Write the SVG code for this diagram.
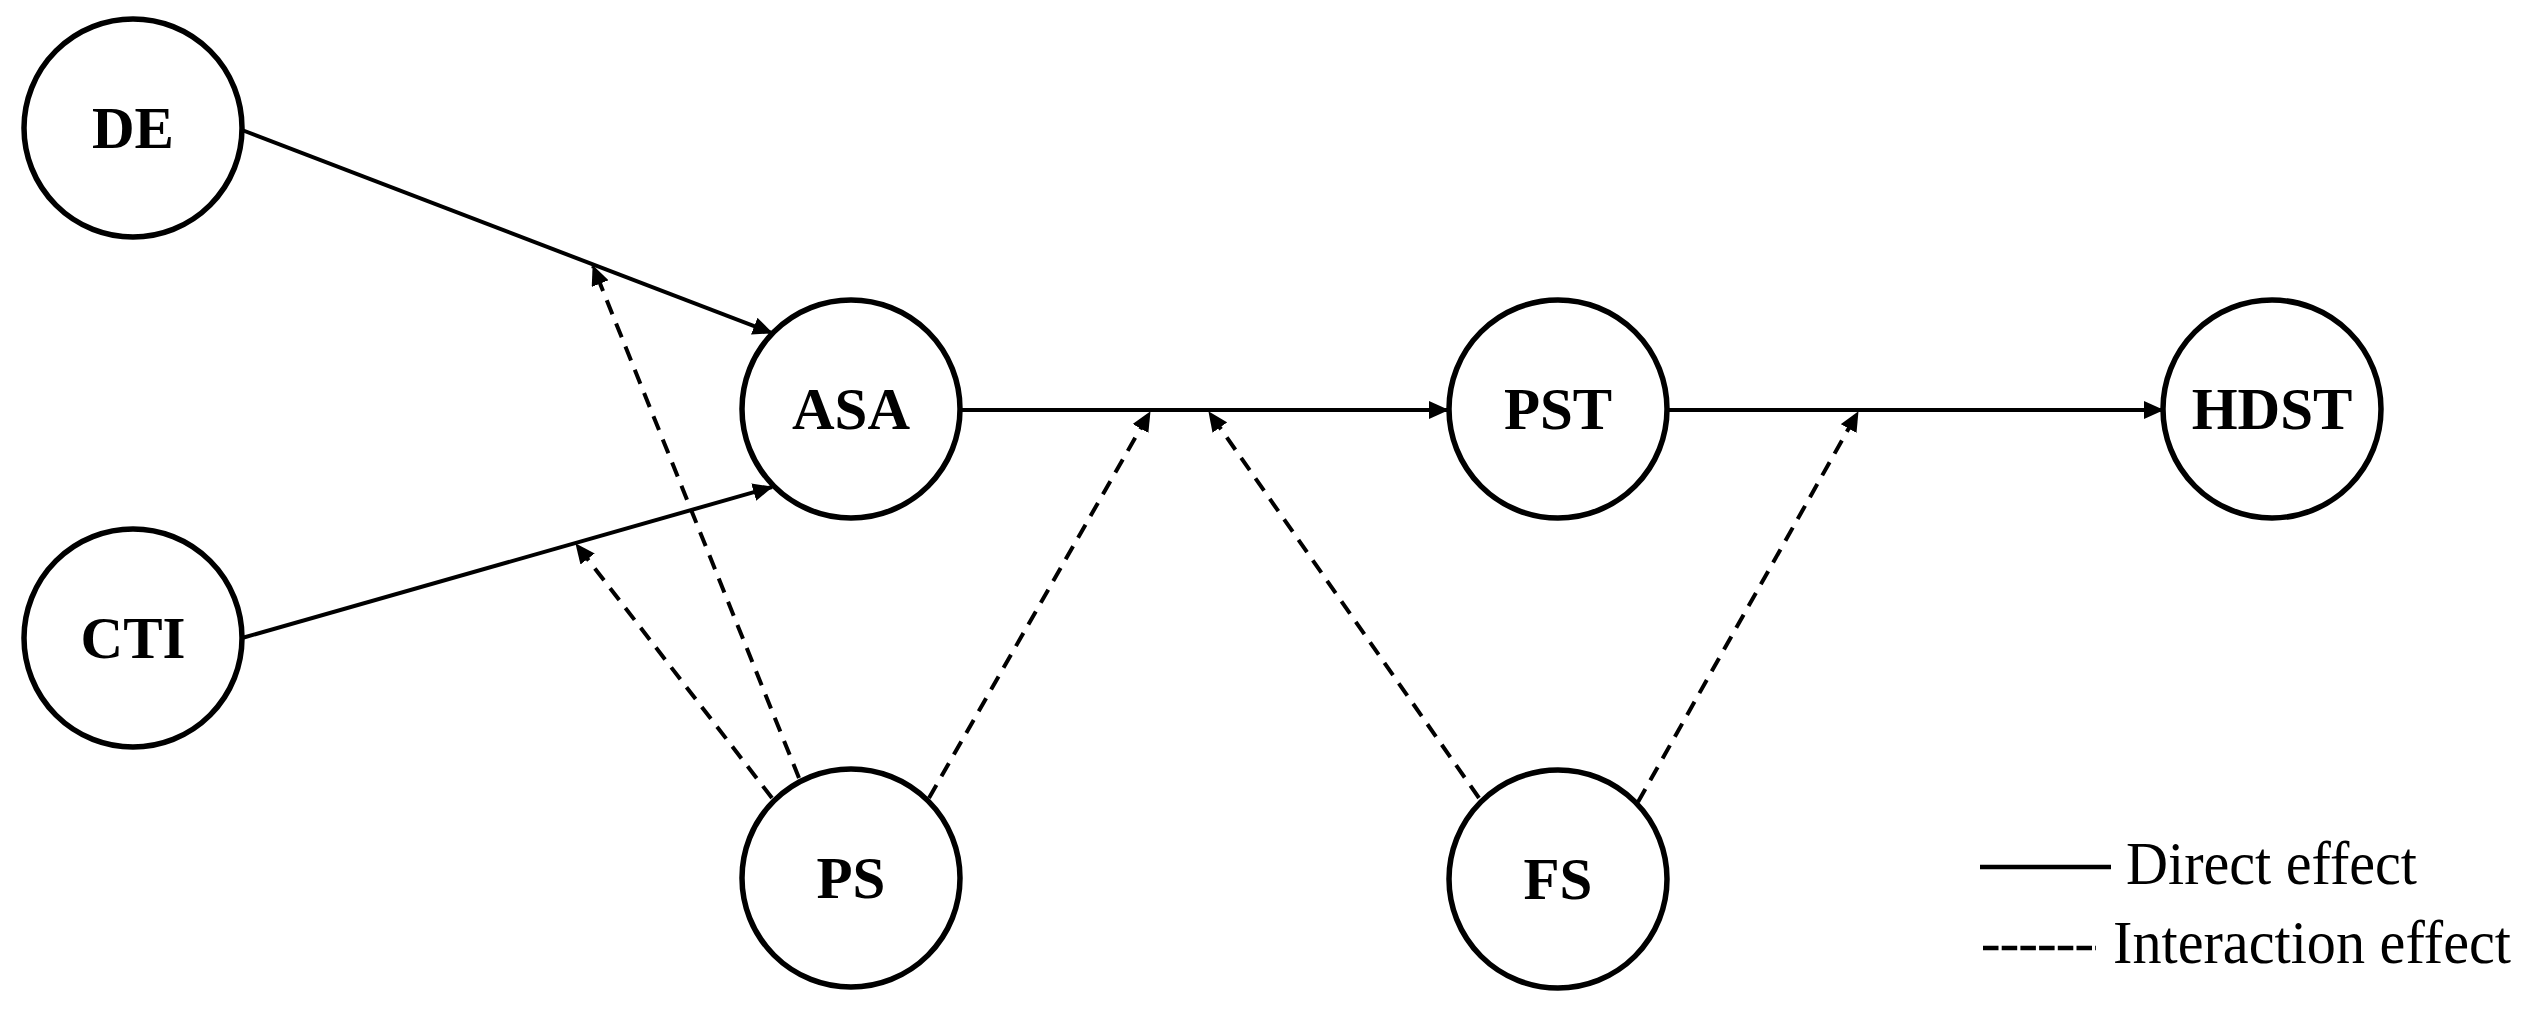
<svg xmlns="http://www.w3.org/2000/svg" width="2531" height="1009" viewBox="0 0 2531 1009">
<style>
.node circle{fill:#fff;stroke:#000;stroke-width:5.5}
.node text{font-family:"Liberation Serif","Times New Roman",serif;font-weight:bold;font-size:59px;text-anchor:middle;fill:#000}
.direct{stroke:#000;stroke-width:4;fill:none}
.inter{stroke:#000;stroke-width:4;fill:none;stroke-dasharray:15 10}
.legend{font-family:"Liberation Serif","Times New Roman",serif;font-size:61px;fill:#000}
</style>
<defs>
<marker id="arr" markerUnits="userSpaceOnUse" markerWidth="20" markerHeight="18" refX="19" refY="9" orient="auto">
<path d="M0,0 L20,9 L0,18 z" fill="#000"/>
</marker>
</defs>
<rect width="2531" height="1009" fill="#fff"/>
<g id="connectors">
<line class="direct" x1="242" y1="130" x2="772" y2="333" marker-end="url(#arr)"/>
<line class="direct" x1="242" y1="638" x2="772" y2="487" marker-end="url(#arr)"/>
<line class="direct" x1="960" y1="410" x2="1448" y2="410" marker-end="url(#arr)"/>
<line class="direct" x1="1667" y1="410" x2="2163" y2="410" marker-end="url(#arr)"/>
<line class="inter" x1="799" y1="778" x2="593" y2="266" marker-end="url(#arr)"/>
<line class="inter" x1="772" y1="798" x2="576" y2="544" marker-end="url(#arr)"/>
<line class="inter" x1="929" y1="798" x2="1150" y2="412" marker-end="url(#arr)"/>
<line class="inter" x1="1479" y1="798" x2="1209" y2="412" marker-end="url(#arr)"/>
<line class="inter" x1="1638" y1="802" x2="1858" y2="412" marker-end="url(#arr)"/>
</g>
<g id="DE" class="node"><circle cx="133" cy="128" r="109"/><text x="133" y="148">DE</text></g>
<g id="CTI" class="node"><circle cx="133" cy="638" r="109"/><text x="133" y="658">CTI</text></g>
<g id="ASA" class="node"><circle cx="851" cy="409" r="109"/><text x="851" y="429">ASA</text></g>
<g id="PS" class="node"><circle cx="851" cy="878" r="109"/><text x="851" y="898">PS</text></g>
<g id="PST" class="node"><circle cx="1558" cy="409" r="109"/><text x="1558" y="429">PST</text></g>
<g id="FS" class="node"><circle cx="1558" cy="879" r="109"/><text x="1558" y="899">FS</text></g>
<g id="HDST" class="node"><circle cx="2272" cy="409" r="109"/><text x="2272" y="429">HDST</text></g>
<g id="legend">
<line x1="1980" y1="867" x2="2111" y2="867" stroke="#000" stroke-width="4.5"/>
<text class="legend" x="2126" y="884" textLength="291" lengthAdjust="spacingAndGlyphs">Direct effect</text>
<line x1="1983" y1="948" x2="2096" y2="948" stroke="#000" stroke-width="4.5" stroke-dasharray="15.5 3.2"/>
<text class="legend" x="2113" y="963" textLength="398" lengthAdjust="spacingAndGlyphs">Interaction effect</text>
</g>
</svg>
